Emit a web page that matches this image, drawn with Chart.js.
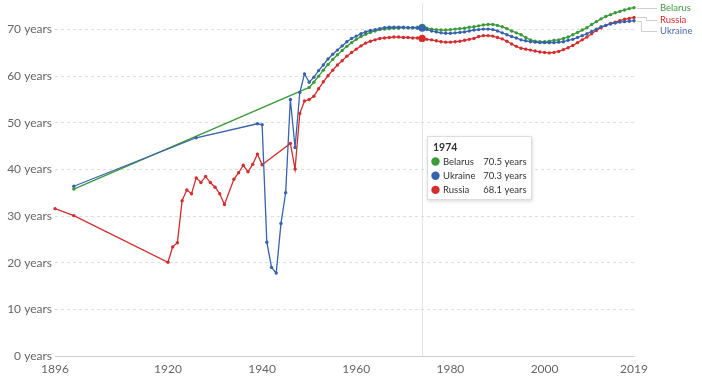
<!DOCTYPE html>
<html>
<head>
<meta charset="utf-8">
<script src="https://cdn.jsdelivr.net/npm/chart.js@4/dist/chart.umd.min.js"></script>
<style>
html,body{margin:0;padding:0;background:#fff;}
#wrap{width:702px;height:379px;position:relative;}
</style>
</head>
<body>
<div id="wrap"><canvas id="c" width="702" height="379"></canvas></div>
<script>
// ---- Data ----
const modernYears = [
  1950,1951,1952,1953,1954,1955,1956,1957,1958,1959,
  1960,1961,1962,1963,1964,1965,1966,1967,1968,1969,
  1970,1971,1972,1973,1974,1975,1976,1977,1978,1979,
  1980,1981,1982,1983,1984,1985,1986,1987,1988,1989,
  1990,1991,1992,1993,1994,1995,1996,1997,1998,1999,
  2000,2001,2002,2003,2004,2005,2006,2007,2008,2009,
  2010,2011,2012,2013,2014,2015,2016,2017,2018,2019
];

const belarusEarlyYears = [1900];
const belarusEarly = [35.8];
const belarusModern = [
  57.6,58.7,60.0,61.3,62.5,63.6,64.6,65.5,66.4,67.2,
  67.9,68.5,69.0,69.4,69.7,70.0,70.1,70.2,70.3,70.3,
  70.4,70.4,70.4,70.5,70.5,70.3,70.1,70.0,69.9,69.9,
  70.0,70.1,70.2,70.3,70.5,70.6,70.8,71.0,71.1,71.1,
  70.9,70.6,70.2,69.7,69.3,68.9,68.3,67.8,67.5,67.4,
  67.4,67.5,67.7,67.8,68.1,68.4,68.9,69.4,69.9,70.4,
  71.1,71.7,72.3,72.8,73.2,73.6,73.9,74.2,74.5,74.7
];

const ukraineEarlyYears = [1900,1926,1939,1940,1941,1942,1943,1944,1945,1946,1947,1948,1949];
const ukraineEarly = [36.4,46.8,49.8,49.6,24.4,19.0,17.8,28.4,35.0,55.0,44.7,56.5,60.5];
const ukraineModern = [
  58.7,59.8,61.2,62.4,63.7,64.7,65.6,66.5,67.4,68.1,
  68.6,69.1,69.5,69.8,70.0,70.2,70.4,70.5,70.5,70.5,
  70.5,70.4,70.4,70.3,70.3,70.0,69.7,69.5,69.3,69.2,
  69.2,69.3,69.4,69.5,69.7,69.9,70.0,70.1,70.1,70.0,
  69.7,69.3,68.9,68.5,68.2,67.8,67.6,67.4,67.3,67.2,
  67.2,67.2,67.2,67.3,67.4,67.7,67.9,68.3,68.7,69.1,
  69.6,70.1,70.6,70.9,71.2,71.4,71.6,71.7,71.8,71.9
];

const russiaEarlyYears = [1896,1900,1920,1921,1922,1923,1924,1925,1926,1927,1928,1929,1930,1931,1932,
  1934,1935,1936,1937,1938,1939,1940,1946,1947,1948,1949];
const russiaEarly = [31.6,30.1,20.1,23.4,24.3,33.3,35.6,34.8,38.2,37.2,38.5,37.2,36.2,34.8,32.5,
  37.9,39.3,40.9,39.5,41.1,43.3,41.0,45.6,40.1,52.0,54.7];
const russiaModern = [
  55.0,55.7,57.3,58.8,60.1,61.3,62.4,63.3,64.3,65.1,
  65.8,66.5,67.1,67.5,67.8,68.1,68.2,68.3,68.4,68.4,
  68.3,68.3,68.2,68.2,68.1,67.9,67.8,67.6,67.4,67.3,
  67.3,67.4,67.5,67.7,67.9,68.1,68.5,68.7,68.7,68.6,
  68.3,68.0,67.5,66.9,66.4,66.0,65.8,65.6,65.4,65.2,
  65.1,65.0,65.1,65.3,65.7,66.1,66.6,67.2,67.8,68.4,
  69.1,69.8,70.4,70.9,71.3,71.6,71.9,72.2,72.4,72.6
];

const seriesNames = ['Belarus','Ukraine','Russia'];
const seriesColors = ['#3b9a3b','#3762ac','#d32d2d'];
const seriesDrawOrder = [2,0,1];
const labelColors = ['#3f9a40','#d42a2a','#4b6aa3'];
const xTickValues = [1896,1920,1940,1960,1980,2000,2019];
const yTickValues = [0,10,20,30,40,50,60,70];
const highlightYear = 1974;
const unit = ' years';

// ---- Build datasets ----
function pts(years, vals){ return years.map((x,i)=>({x:x, y:vals[i]})); }
const seriesData = [
  pts(belarusEarlyYears.concat(modernYears), belarusEarly.concat(belarusModern)),
  pts(ukraineEarlyYears.concat(modernYears), ukraineEarly.concat(ukraineModern)),
  pts(russiaEarlyYears.concat(modernYears), russiaEarly.concat(russiaModern))
];

const FONT = 'Lato, "Open Sans", sans-serif';

const datasets = seriesNames.map((n,i)=>({
  label: n,
  data: seriesData[i],
  borderColor: seriesColors[i],
  backgroundColor: seriesColors[i],
  borderWidth: 1.3,
  pointRadius: ctx => (ctx.raw && ctx.raw.x === highlightYear) ? 3.6 : 1.7,
  pointBorderWidth: 0,
  pointHoverRadius: 3,
  tension: 0,
  clip: false,
  order: seriesDrawOrder[i]
}));

const overlayPlugin = {
  id: 'overlay',
  beforeDatasetsDraw(chart){
    const {ctx, chartArea, scales:{x}} = chart;
    const px = Math.round(x.getPixelForValue(highlightYear)) + 0.5;
    ctx.save();
    ctx.strokeStyle = '#e3e3e3';
    ctx.lineWidth = 1;
    ctx.beginPath();
    ctx.moveTo(px, chartArea.top);
    ctx.lineTo(px, chartArea.bottom);
    ctx.stroke();
    ctx.restore();
  },
  afterDraw(chart){
    const {ctx, scales:{x,y}} = chart;
    // ---- end labels with connectors ----
    const ends = seriesData.map((d,i)=>{
      const last = d[d.length-1];
      return {i, px: x.getPixelForValue(last.x), py: y.getPixelForValue(last.y)};
    }).sort((a,b)=>a.py-b.py);
    let prev = -Infinity;
    const bendX = [651.5, 646.5, 641.5];
    const labelX = 660;
    ctx.save();
    ctx.font = '9.5px ' + FONT;
    ctx.textBaseline = 'middle';
    ends.forEach((e,k)=>{
      let ly = Math.max(e.py, 8, prev + 11.5);
      prev = ly;
      ctx.strokeStyle = '#cfcfcf';
      ctx.lineWidth = 1;
      ctx.beginPath();
      ctx.moveTo(e.px + 3, Math.round(e.py)+0.5);
      ctx.lineTo(bendX[k], Math.round(e.py)+0.5);
      ctx.lineTo(bendX[k], Math.round(ly)+0.5);
      ctx.lineTo(labelX - 3, Math.round(ly)+0.5);
      ctx.stroke();
      const name = seriesNames[e.i];
      const colIdx = name === 'Belarus' ? 0 : (name === 'Russia' ? 1 : 2);
      ctx.fillStyle = labelColors[colIdx];
      ctx.fillText(name, labelX, ly);
    });
    ctx.restore();

    // ---- tooltip box for highlighted year ----
    const bx = Math.round(x.getPixelForValue(highlightYear)) + 5.5;
    const by = 136.5;
    const bw = 104, bh = 63;
    ctx.save();
    ctx.shadowColor = 'rgba(0,0,0,0.18)';
    ctx.shadowBlur = 4;
    ctx.shadowOffsetX = 0;
    ctx.shadowOffsetY = 1;
    ctx.fillStyle = '#fff';
    ctx.fillRect(bx, by, bw, bh);
    ctx.shadowColor = 'transparent';
    ctx.strokeStyle = '#dcdcdc';
    ctx.lineWidth = 1;
    ctx.strokeRect(bx, by, bw, bh);
    ctx.textBaseline = 'middle';
    ctx.fillStyle = '#333';
    ctx.font = 'bold 10.5px ' + FONT;
    ctx.textAlign = 'left';
    ctx.fillText(String(highlightYear), bx + 5.5, by + 11.5);
    ctx.font = '9.5px ' + FONT;
    seriesData.forEach((d,i)=>{
      const p = d.find(q=>q.x===highlightYear);
      const ry = by + 25 + i*14.2;
      ctx.fillStyle = seriesColors[i];
      ctx.beginPath();
      ctx.arc(bx + 8, ry, 4.2, 0, Math.PI*2);
      ctx.fill();
      ctx.fillStyle = '#333';
      ctx.textAlign = 'left';
      ctx.fillText(seriesNames[i], bx + 15.5, ry);
      ctx.textAlign = 'right';
      ctx.fillText(p.y.toFixed(1) + unit, bx + 99, ry);
    });
    ctx.restore();
  }
};

new Chart(document.getElementById('c'), {
  type: 'line',
  data: { datasets },
  options: {
    responsive: false,
    devicePixelRatio: 1,
    animation: false,
    layout: { padding: { top: 0, right: 68, left: 0, bottom: 0 } },
    plugins: { legend: { display: false }, tooltip: { enabled: false } },
    events: [],
    scales: {
      x: {
        type: 'linear',
        min: 1896, max: 2019,
        afterBuildTicks: s => { s.ticks = xTickValues.map(v=>({value:v})); },
        afterFit: s => { s.height = 23; s.paddingLeft = 0; s.paddingRight = 0; },
        grid: { display: false, drawTicks: false },
        border: { display: true, color: '#cfcfcf', width: 1 },
        ticks: {
          autoSkip: false, maxRotation: 0, padding: 6,
          color: '#666', font: { family: FONT, size: 12 },
          callback: v => String(v)
        }
      },
      y: {
        type: 'linear',
        min: 0, max: 75.7,
        afterBuildTicks: s => { s.ticks = yTickValues.map(v=>({value:v})); },
        afterFit: s => { s.width = 55; s.paddingTop = 0; s.paddingBottom = 0; },
        grid: { color: '#dedede', lineWidth: 1, drawTicks: false },
        border: { display: false, dash: [3,3] },
        ticks: {
          padding: 3, color: '#666', font: { family: FONT, size: 12 },
          callback: v => v + unit
        }
      }
    }
  },
  plugins: [overlayPlugin]
});
</script>
</body>
</html>
